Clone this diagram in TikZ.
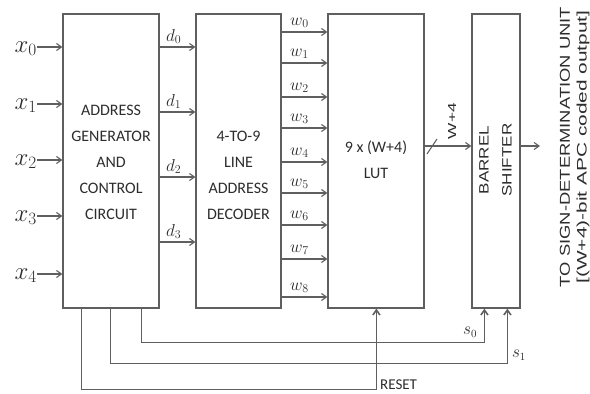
\documentclass[tikz,border=0pt]{standalone}
\usepackage{fontspec}
\setmainfont{Carlito}
\newfontfamily\arialf{Liberation Sans}
\usepackage{graphicx}
\usetikzlibrary{arrows.meta,calc}
\definecolor{ln}{RGB}{95,95,95}
\definecolor{tx}{RGB}{45,45,45}
\begin{document}
\begin{tikzpicture}[x=1pt,y=-1pt,
  blk/.style={draw=ln,line width=1.2pt,fill=white,inner sep=0pt},
  arr/.style={draw=ln,line width=1.1pt,-{Straight Barb[length=5pt,width=7pt]}},
  ctl/.style={draw=ln,line width=1.6pt,-{Straight Barb[length=5pt,width=7pt]}},
  btxt/.style={text=tx,font=\fontsize{16}{26}\selectfont,align=center,inner sep=0pt},
  lbl/.style={text=tx,inner sep=0pt}]
\useasboundingbox[fill=white] (0,0) rectangle (590,394);
% blocks
\node[blk,minimum width=96pt,minimum height=294pt] (gen) at (111,161) {};
\node[blk,minimum width=85pt,minimum height=294pt] (dec) at (238.5,161) {};
\node[blk,minimum width=96pt,minimum height=294pt] (lut) at (376,161) {};
\node[blk,minimum width=48pt,minimum height=294pt] (bs) at (496,161) {};
% block texts
\node[btxt] (gent) at (111,162) {ADDRESS\\GENERATOR\\AND\\CONTROL\\CIRCUIT};
\node[btxt] (dect) at (238.5,175) {4-TO-9\\LINE\\ADDRESS\\DECODER};
\node[btxt] (lutt) at (376,160) {9 x (W+4)\\LUT};
\node[lbl,rotate=90] (bst1) at (484,160) {\scalebox{1}[0.8]{\arialf\fontsize{17}{17}\selectfont BARREL}};
\node[lbl,rotate=90] (bst2) at (507,160) {\scalebox{1}[0.8]{\arialf\fontsize{17}{17}\selectfont SHIFTER}};
% inputs
\foreach \i/\y in {0/47,1/104,2/160,3/216,4/274}{
  \coordinate (a\i) at (37,\y);
  \node[lbl,anchor=base east,font=\fontsize{24}{24}\selectfont] (xl\i) at ([yshift=-5pt]a\i) {$x_{\i}$};
  \draw[arr] (a\i) -- (a\i -| gen.west);
}
% d outputs
\foreach \i/\y in {0/47,1/112,2/177,3/242}{
  \coordinate (d\i) at (0,\y);
  \draw[arr] (gen.east |- d\i) -- (dec.west |- d\i);
  \node[lbl,anchor=base west,font=\fontsize{17}{17}\selectfont] (dl\i) at ([xshift=166pt,yshift=6pt]d\i) {$d_{\i}$};
}
% w outputs
\foreach \i/\y in {0/32,1/63,2/97,3/128,4/162,5/193,6/225,7/259,8/297}{
  \coordinate (w\i) at (0,\y);
  \draw[arr] (dec.east |- w\i) -- (lut.west |- w\i);
  \node[lbl,anchor=base west,font=\fontsize{17}{17}\selectfont] (wl\i) at ([xshift=290pt,yshift=7pt]w\i) {$w_{\i}$};
}
% LUT to barrel shifter
\coordinate (m) at (0,146);
\draw[arr] (lut.east |- m) -- (bs.west |- m);
\draw[draw=ln,line width=1pt] (427,154) -- (437,139);
\node[lbl,rotate=90] (wp) at (452,121) {\resizebox{36pt}{8pt}{\arialf W+4}};
% output
\coordinate (outend) at (540,146);
\draw[arr] (bs.east |- m) -- (outend);
\node[lbl,rotate=90] (o1) at (565,147) {\resizebox{280pt}{10pt}{\arialf TO SIGN-DETERMINATION UNIT}};
\node[lbl,rotate=90] (o2) at (583,147) {\resizebox{273pt}{10pt}{\arialf [(W+4)-bit APC coded output]}};
% control lines
\coordinate (c0) at ($(gen.south west)+(79,0)$);
\coordinate (c1) at ($(gen.south west)+(48,0)$);
\coordinate (c2) at ($(gen.south west)+(19,0)$);
\draw[ctl] (c0) -- ++(0,34) -| ($(bs.south west)+(13,0)$);
\draw[ctl] (c1) -- ++(0,55) -| ($(bs.south west)+(36,0)$);
\draw[ctl] (c2) -- ++(0,81) -| ($(lut.south west)+(49,0)$);
\node[lbl,font=\fontsize{16}{16}\selectfont] (s0) at (470,332) {$s_0$};
\node[lbl,font=\fontsize{16}{16}\selectfont] (s1) at (519,355) {$s_1$};
\node[lbl,anchor=base west,text=tx,font=\fontsize{15}{15}\selectfont] (rst) at (380,389) {RESET};
\end{tikzpicture}
\end{document}
